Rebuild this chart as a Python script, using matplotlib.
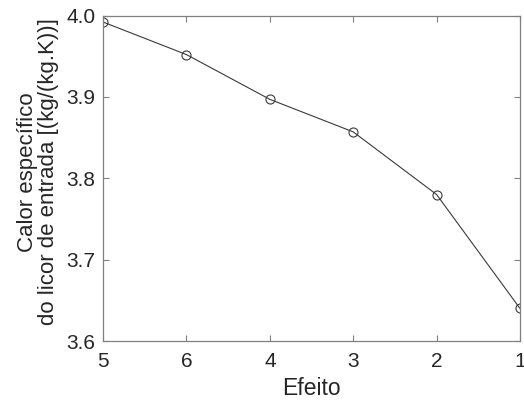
import matplotlib
matplotlib.use("Agg")
import matplotlib.pyplot as plt

efeitos = ["5", "6", "4", "3", "2", "1"]
calor = [3.992, 3.952, 3.897, 3.857, 3.780, 3.640]
yticks = [3.6, 3.7, 3.8, 3.9, 4.0]

plt.rcParams['font.family'] = ['Liberation Sans', 'DejaVu Sans']

fig = plt.figure(figsize=(5.24, 4.03), dpi=100)
ax = fig.add_axes([0.1966, 0.1538, 0.7958, 0.8077])

x = list(range(len(efeitos)))
ax.plot(x, calor, color='#3a3a3a', linewidth=0.8, marker='o', markersize=6.5,
        markerfacecolor='none', markeredgecolor='#3a3a3a', markeredgewidth=0.8)

ax.set_xlim(0, len(efeitos) - 1)
ax.set_ylim(3.6, 4.0)
ax.set_xticks(x)
ax.set_xticklabels(efeitos)
ax.set_yticks(yticks)
ax.set_yticklabels([f"{v:.1f}" for v in yticks])

for s in ax.spines.values():
    s.set_color('#808080')
    s.set_linewidth(0.9)
ax.tick_params(direction='in', length=4, width=0.8, colors='#808080',
               labelcolor='#262626', labelsize=15, top=True, right=True)
ax.tick_params(axis='x', pad=8)
ax.tick_params(axis='y', pad=5.5)

ax.set_xlabel("Efeito", fontsize=16.5, color='#262626', labelpad=4)
ax.set_ylabel("Calor específico\ndo licor de entrada [(kg/(kg.K))]", fontsize=16,
              color='#262626', linespacing=1.0)
ax.yaxis.set_label_coords(-0.105, 0.52)

fig.savefig("out.png", dpi=100)
